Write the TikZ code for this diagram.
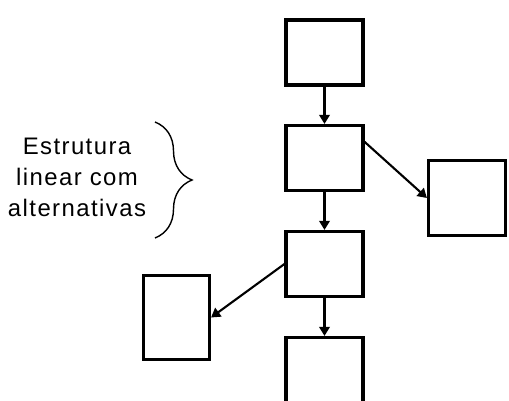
\documentclass[tikz,border=0pt]{standalone}
\usepackage{fontspec}
\setmainfont{Liberation Sans}
\newfontfamily\labelfont[LetterSpace=6]{Liberation Sans}
\usetikzlibrary{arrows.meta, decorations.pathreplacing}

\begin{document}
\begin{tikzpicture}[x=0.025cm, y=-0.025cm,
    box/.style={draw, line width=2.2pt, inner sep=0pt, minimum width=1.925cm, minimum height=1.625cm},
    link/.style={line width=1.5pt, -{Triangle[length=6.5pt, width=7.5pt]}}]
    \useasboundingbox (0,0) rectangle (509,401);
    \clip (0,0) rectangle (509,401);

    % Main column
    \node[box] (b1) at (324.5,52.5) {};
    \node[box] (b2) at (324.5,158) {};
    \node[box] (b3) at (324.5,264) {};
    \node[box] (b4) at (324.5,370) {};
    \draw[link] (b1) -- (b2);
    \draw[link] (b2) -- (b3);
    \draw[link] (b3) -- (b4);

    % Alternatives
    \node[box, minimum height=1.875cm] (alt1) at (467,198) {};
    \node[box, minimum width=1.65cm, minimum height=2.1cm] (alt2) at (176.5,317.5) {};
    \draw[link] (b2.22) -- (alt1.west);
    \draw[link] (b3.west) -- (alt2.east);

    % Label with brace
    \node[align=center, font=\labelfont\fontsize{17}{22}\selectfont] (lbl) at (77,177.5) {Estrutura\\linear com\\alternativas};
    \coordinate (bt) at (155,122);
    \coordinate (bb) at (155,238);
    \draw[line width=1pt, decorate, decoration={brace, amplitude=0.925cm}] (bt) -- (bb);
\end{tikzpicture}
\end{document}
